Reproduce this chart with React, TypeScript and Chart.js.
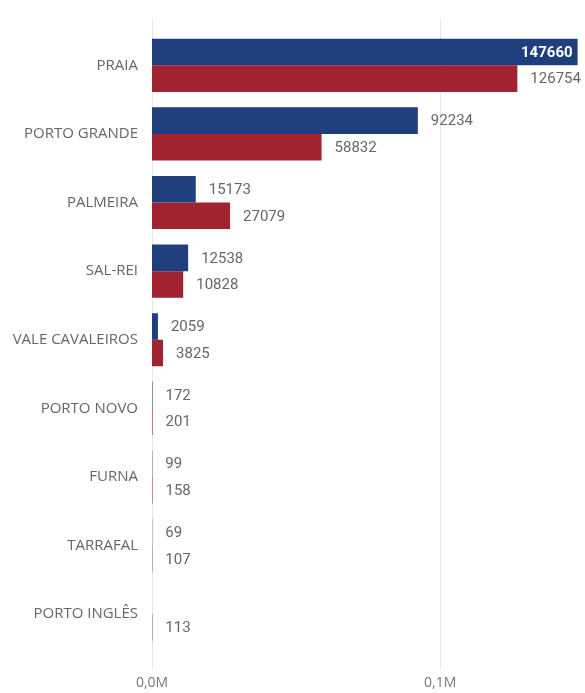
import React, { useEffect, useRef } from "react";
import { Chart, registerables } from "chart.js";

Chart.register(...registerables);

const categories = [
  "PRAIA",
  "PORTO GRANDE",
  "PALMEIRA",
  "SAL-REI",
  "VALE CAVALEIROS",
  "PORTO NOVO",
  "FURNA",
  "TARRAFAL",
  "PORTO INGLÊS",
];
const seriesBlue: (number | null)[] = [147660, 92234, 15173, 12538, 2059, 172, 99, 69, null];
const seriesRed: (number | null)[] = [126754, 58832, 27079, 10828, 3825, 201, 158, 107, 113];
const xTickValues = [0, 100000];
const xTickLabels = ["0,0M", "0,1M"];

const BLUE = "#1F3E7C";
const RED = "#A12330";
const LABEL_FONT = "15px Roboto";

const gridPlugin = {
  id: "customGrid",
  beforeDatasetsDraw(chart: any) {
    const { ctx, scales } = chart;
    const x = scales.x;
    ctx.save();
    ctx.strokeStyle = "#e6e6e6";
    ctx.lineWidth = 1;
    xTickValues.forEach((v) => {
      const px = Math.round(x.getPixelForValue(v)) + 0.5;
      ctx.beginPath();
      ctx.moveTo(px, 18);
      ctx.lineTo(px, 670);
      ctx.stroke();
    });
    ctx.restore();
  },
};

const labelPlugin = {
  id: "valueLabels",
  afterDatasetsDraw(chart: any) {
    const { ctx } = chart;
    ctx.save();
    ctx.font = LABEL_FONT;
    ctx.textBaseline = "middle";
    chart.data.datasets.forEach((ds: any, di: number) => {
      const meta = chart.getDatasetMeta(di);
      meta.data.forEach((el: any, i: number) => {
        const v = ds.data[i];
        if (v === null || v === undefined) return;
        const text = String(v);
        const w = ctx.measureText(text).width;
        const x = el.x;
        const y = el.y;
        if (x + 13 + w > chart.width) {
          ctx.font = "bold 15px Roboto";
          ctx.fillStyle = "#ffffff";
          ctx.textAlign = "right";
          ctx.fillText(text, x - 5, y + 1);
          ctx.font = LABEL_FONT;
        } else {
          ctx.fillStyle = "#666666";
          ctx.textAlign = "left";
          ctx.fillText(text, x + 13, y + 1);
        }
      });
    });
    ctx.restore();
  },
};

export default function App() {
  const ref = useRef<HTMLCanvasElement | null>(null);
  useEffect(() => {
    if (!ref.current) return;
    const chart = new Chart(ref.current, {
      type: "bar",
      data: {
        labels: categories,
        datasets: [
          { label: "A", data: seriesBlue as any, backgroundColor: BLUE, borderWidth: 0 },
          { label: "B", data: seriesRed as any, backgroundColor: RED, borderWidth: 0 },
        ],
      },
      options: {
        indexAxis: "y",
        animation: false,
        responsive: false,
        maintainAspectRatio: false,
        layout: { padding: { top: 31, right: 7, left: 0, bottom: 0 } },
        datasets: { bar: { categoryPercentage: 0.775, barPercentage: 1 } },
        plugins: { legend: { display: false }, tooltip: { enabled: false } },
        scales: {
          x: {
            min: 0,
            max: 147800,
            grid: { display: false, drawTicks: false },
            border: { display: false },
            afterFit: (s: any) => {
              s.height = 693 - 31 - 617.5;
            },
            afterBuildTicks: (s: any) => {
              s.ticks = xTickValues.map((v) => ({ value: v }));
            },
            ticks: {
              padding: 26,
              color: "#777777",
              font: { family: "'Open Sans'", size: 14 },
              maxRotation: 0,
              callback: (v: any) => {
                const idx = xTickValues.indexOf(Number(v));
                return idx >= 0 ? xTickLabels[idx] : "";
              },
            },
          },
          y: {
            grid: { display: false, drawTicks: false },
            border: { display: false },
            afterFit: (s: any) => {
              s.width = 152;
            },
            ticks: {
              padding: 14,
              color: "#666666",
              font: { family: "'Open Sans'", size: 15 },
            },
          },
        },
      },
      plugins: [gridPlugin, labelPlugin],
    });
    return () => chart.destroy();
  }, []);
  return (
    <div style={{ position: "fixed", left: 0, top: 0, width: 585, height: 693, background: "#fff" }}>
      <canvas ref={ref} width={585} height={693} style={{ width: 585, height: 693 }} />
    </div>
  );
}
